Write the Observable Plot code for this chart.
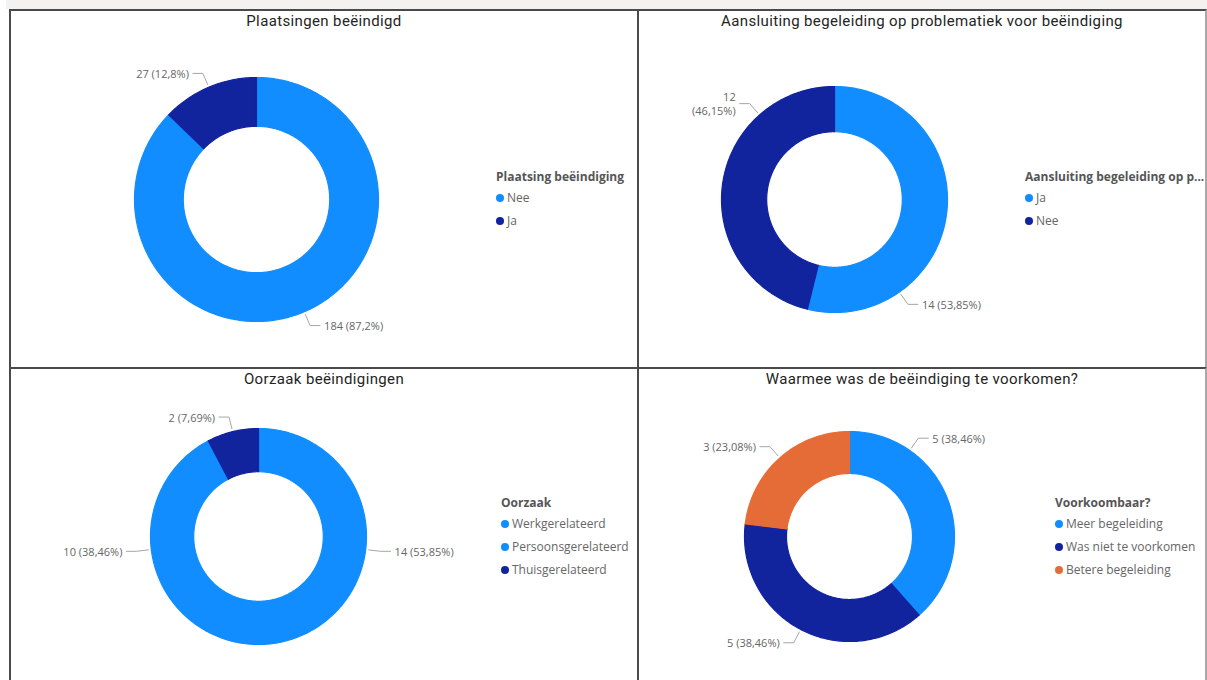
<!DOCTYPE html>
<html><head><meta charset="utf-8">
<script src="https://cdn.jsdelivr.net/npm/d3@7"></script>
<script src="https://cdn.jsdelivr.net/npm/@observablehq/plot@0.6"></script>
<style>
html,body{margin:0;padding:0}
body{width:1207px;height:680px;overflow:hidden;background:#fff;position:relative;font-family:"Open Sans",sans-serif}
.strip{position:absolute;left:6px;top:0;width:1201px;height:9px;background:#f3f2f1}
.panel{position:absolute;box-sizing:border-box;border:2px solid #4a4a4a;background:#fff}
.title{position:absolute;left:0;width:100%;text-align:center;font-family:Roboto,sans-serif;font-size:15px;letter-spacing:0.37px;color:#252423;line-height:20px;white-space:nowrap}
.chart{position:absolute}
.legend{position:absolute;font-family:"Open Sans",sans-serif;font-size:12px;color:#666;white-space:nowrap}
.legend .lt{font-weight:700;color:#555;line-height:18px;font-size:12px}
.legend .it{line-height:23px;display:flex;align-items:center}
.legend .dot{width:8px;height:8px;border-radius:50%;margin-right:3px;display:inline-block}
</style>
</head><body>
<div class="strip"></div>
<script>
// ---- data ----
const chartTitles = ["Plaatsingen beëindigd", "Aansluiting begeleiding op problematiek voor beëindiging", "Oorzaak beëindigingen", "Waarmee was de beëindiging te voorkomen?"];
const legendTitles = ["Plaatsing beëindiging", "Aansluiting begeleiding op p...", "Oorzaak", "Voorkoombaar?"];

const plaatsingCats = ["Nee", "Ja"];
const plaatsingVals = [184, 27];

const aansluitingCats = ["Ja", "Nee"];
const aansluitingVals = [14, 12];

const oorzaakCats = ["Werkgerelateerd", "Persoonsgerelateerd", "Thuisgerelateerd"];
const oorzaakVals = [14, 10, 2];

const voorkoomCats = ["Meer begeleiding", "Was niet te voorkomen", "Betere begeleiding"];
const voorkoomVals = [5, 5, 3];

// ---- styles / layout ----
const BLUE = "#118DFF", NAVY = "#12239E", ORANGE = "#E66C37";
const panels = [
  {cats: plaatsingCats, vals: plaatsingVals, colors: [BLUE, NAVY], left: 9, top: 9, width: 630, height: 360, right: "#4a4a4a",
   cx: 256, cy: 199, r: 122, legX: 496, legY: 168, dec: 1, angles: {}, wrap: {}},
  {cats: aansluitingCats, vals: aansluitingVals, colors: [BLUE, NAVY], left: 637, top: 9, width: 570, height: 360, right: "#a8a8a8",
   cx: 834, cy: 199, r: 113, legX: 1025, legY: 168, dec: 2, angles: {0: 145, 1: 318.5}, wrap: {1: true}},
  {cats: oorzaakCats, vals: oorzaakVals, colors: [BLUE, BLUE, NAVY], left: 9, top: 367, width: 630, height: 330, right: "#4a4a4a",
   cx: 258, cy: 536, r: 108, legX: 501, legY: 494, dec: 2, angles: {}, wrap: {}},
  {cats: voorkoomCats, vals: voorkoomVals, colors: [BLUE, NAVY, ORANGE], left: 637, top: 367, width: 570, height: 330, right: "#a8a8a8",
   cx: 849, cy: 536, r: 105, legX: 1055, legY: 494, dec: 2, angles: {0: 35}, wrap: {}}
];
const INNER = 0.6;

panels.forEach((p, pi) => {
  const box = document.createElement("div");
  box.className = "panel";
  Object.assign(box.style, {left: p.left + "px", top: p.top + "px", width: p.width + "px", height: p.height + "px", borderRightColor: p.right});
  document.body.appendChild(box);

  const t = document.createElement("div");
  t.className = "title";
  t.style.top = "0px";
  t.textContent = chartTitles[pi];
  box.appendChild(t);

  const rows = p.cats.map((c, i) => ({cat: c, value: p.vals[i], color: p.colors[i], i}));
  const total = d3.sum(rows, d => d.value);
  const arcs = d3.pie().sort(null).value(d => d.value)(rows);

  const pts = [];
  arcs.forEach(a => {
    const n = Math.max(2, Math.ceil((a.endAngle - a.startAngle) / (Math.PI / 180)));
    for (let k = 0; k <= n; k++) {
      const ang = a.startAngle + (a.endAngle - a.startAngle) * k / n;
      pts.push({id: a.data.i, color: a.data.color, x: Math.sin(ang), y: Math.cos(ang)});
    }
    for (let k = n; k >= 0; k--) {
      const ang = a.startAngle + (a.endAngle - a.startAngle) * k / n;
      pts.push({id: a.data.i, color: a.data.color, x: INNER * Math.sin(ang), y: INNER * Math.cos(ang)});
    }
  });

  const R = p.r;
  const leaders = [], labels = [];
  arcs.forEach(a => {
    const i = a.data.i;
    const deg = p.angles[i] !== undefined ? p.angles[i] : ((a.startAngle + a.endAngle) / 2) * 180 / Math.PI;
    const ang = deg * Math.PI / 180;
    const s = Math.sin(ang) >= 0 ? 1 : -1;
    const r1 = (R + 3) / R, r2 = (R + 15) / R;
    const p1 = [r1 * Math.sin(ang), r1 * Math.cos(ang)];
    const p2 = [r2 * Math.sin(ang), r2 * Math.cos(ang)];
    const p3 = [p2[0] + s * 10 / R, p2[1]];
    [p1, p2, p3].forEach(q => leaders.push({id: i, x: q[0], y: q[1]}));
    const pct = (a.data.value / total * 100).toFixed(p.dec).replace(".", ",");
    const txt = a.data.value + (p.wrap[i] ? "\n" : " ") + "(" + pct + "%)";
    labels.push({x: p3[0], y: p3[1], side: s, text: txt});
  });

  const ox = p.left, oy = p.top;
  const svg = Plot.plot({
    width: p.width, height: p.height,
    margin: 0,
    x: {domain: [-1, 1], range: [p.cx - ox - R, p.cx - ox + R], axis: null},
    y: {domain: [-1, 1], range: [p.cy - oy + R, p.cy - oy - R], axis: null},
    color: {type: "identity"},
    style: {background: "transparent", overflow: "visible"},
    marks: [
      Plot.line(pts, {x: "x", y: "y", z: "id", fill: "color", stroke: "color", strokeWidth: 1.2, curve: "linear-closed"}),
      Plot.line(leaders, {x: "x", y: "y", z: "id", stroke: "#a6a6a6", strokeWidth: 1}),
      Plot.text(labels.filter(d => d.side > 0), {x: "x", y: "y", text: "text", dx: 4, textAnchor: "start", lineHeight: 1.3, fill: "#666", fontSize: 11, fontFamily: "Open Sans"}),
      Plot.text(labels.filter(d => d.side < 0), {x: "x", y: "y", text: "text", dx: -4, textAnchor: "end", lineHeight: 1.3, fill: "#666", fontSize: 11, fontFamily: "Open Sans"})
    ]
  });
  svg.classList.add("chart");
  Object.assign(svg.style, {position: "absolute", left: (p.left) + "px", top: (p.top) + "px"});
  document.body.appendChild(svg);

  const leg = document.createElement("div");
  leg.className = "legend";
  Object.assign(leg.style, {left: p.legX + "px", top: p.legY + "px"});
  const lt = document.createElement("div");
  lt.className = "lt";
  lt.textContent = legendTitles[pi];
  leg.appendChild(lt);
  rows.forEach(r => {
    const it = document.createElement("div");
    it.className = "it";
    const dot = document.createElement("span");
    dot.className = "dot";
    dot.style.background = r.color;
    it.appendChild(dot);
    it.appendChild(document.createTextNode(r.cat));
    leg.appendChild(it);
  });
  document.body.appendChild(leg);
});
</script>
</body></html>
